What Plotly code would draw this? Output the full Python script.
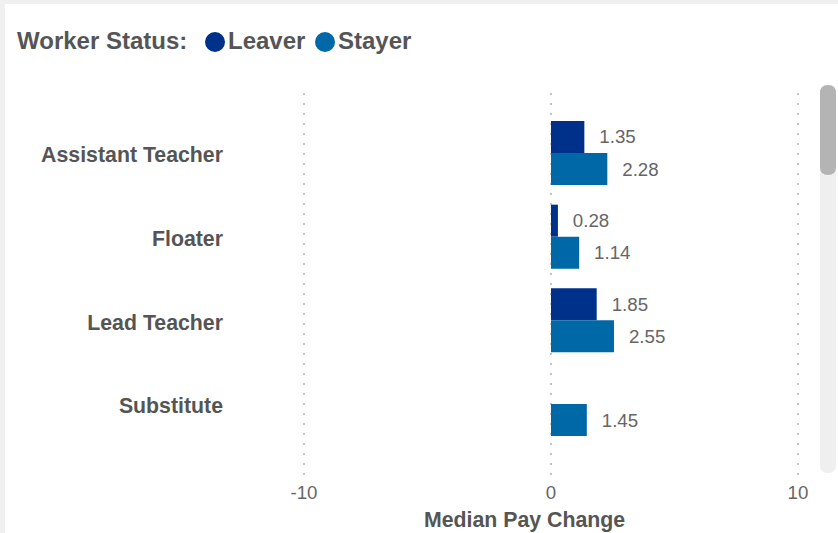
import plotly.graph_objects as go

# ---- data ----
categories = ["Assistant Teacher", "Floater", "Lead Teacher", "Substitute"]
leaver = [1.35, 0.28, 1.85, None]
stayer = [2.28, 1.14, 2.55, 1.45]
x_ticks = [-10, 0, 10]
series_names = ["Leaver", "Stayer"]
series_colors = ["#00318A", "#0068A7"]
legend_title = "Worker Status:"

# ---- layout geometry (pixels) ----
W, H = 838, 533
L, R, T, B = 238, 27, 93, 56
PW, PH = W - L - R, H - T - B
FONT = "Liberation Sans, Arial, sans-serif"
DARK = "#555555"
MID = "#666666"


def px(p):
    return (p - L) / PW


def py(p):
    return (H - B - p) / PH


def rounded_rect(x0, y0, x1, y1, r):
    """pixel coords (top-left origin) -> paper path with rounded corners"""
    rx, ry = r / PW, r / PH
    X0, X1 = px(x0), px(x1)
    Yt, Yb = py(y0), py(y1)
    return (
        f"M {X0 + rx} {Yt} L {X1 - rx} {Yt} Q {X1} {Yt} {X1} {Yt - ry} "
        f"L {X1} {Yb + ry} Q {X1} {Yb} {X1 - rx} {Yb} "
        f"L {X0 + rx} {Yb} Q {X0} {Yb} {X0} {Yb + ry} "
        f"L {X0} {Yt - ry} Q {X0} {Yt} {X0 + rx} {Yt} Z"
    )


fig = go.Figure()
label_tpl = "\u00a0\u00a0\u200a%{x:.2f}"
for name, vals, col in zip(series_names, [leaver, stayer], series_colors):
    fig.add_trace(go.Bar(
        y=categories, x=vals, name=name, orientation="h",
        marker=dict(color=col, line=dict(width=0)),
        texttemplate=label_tpl, textposition="outside",
        textfont=dict(family=FONT, size=18.7, color=MID),
        cliponaxis=False, showlegend=False, hoverinfo="x+y+name",
    ))

shapes = [
    # visual frame shading (top & left)
    dict(type="rect", xref="paper", yref="paper", x0=px(0), x1=px(W), y0=py(0), y1=py(4),
         fillcolor="#f0f0f0", line=dict(width=0), layer="below"),
    dict(type="rect", xref="paper", yref="paper", x0=px(0), x1=px(5), y0=py(0), y1=py(H),
         fillcolor="#f0f0f0", line=dict(width=0), layer="below"),
    # scrollbar track + thumb
    dict(type="path", xref="paper", yref="paper", path=rounded_rect(820, 85, 836, 473, 8),
         fillcolor="#efefef", line=dict(width=0)),
    dict(type="path", xref="paper", yref="paper", path=rounded_rect(820, 85, 836, 175, 8),
         fillcolor="#b4b4b4", line=dict(width=0)),
]

# custom legend (title + circle markers + labels)
annotations = [
    dict(text=legend_title, xref="paper", yref="paper", x=px(15), y=py(41),
         xanchor="left", yanchor="middle", showarrow=False,
         font=dict(family=FONT, size=24, color=DARK, weight="bold")),
]
legend_circle_x = [205, 315]
for name, col, cx in zip(series_names, series_colors, legend_circle_x):
    shapes.append(dict(type="circle", xref="paper", yref="paper",
                       x0=px(cx), x1=px(cx + 20), y0=py(52), y1=py(32),
                       fillcolor=col, line=dict(width=0)))
    annotations.append(dict(text=name, xref="paper", yref="paper", x=px(cx + 21), y=py(41),
                            xanchor="left", yanchor="middle", showarrow=False,
                            font=dict(family=FONT, size=24, color=DARK, weight="bold")))

fig.update_layout(
    width=W, height=H, autosize=False,
    margin=dict(l=L, r=R, t=T, b=B, pad=0, autoexpand=False),
    paper_bgcolor="white", plot_bgcolor="white",
    barmode="group", bargap=0.235, bargroupgap=0,
    font=dict(family=FONT, color=DARK),
    shapes=shapes, annotations=annotations,
    showlegend=False,
    xaxis=dict(
        automargin=False,
        range=[(L - 551) / 24.7, (W - R - 551) / 24.7],
        tickvals=x_ticks, ticktext=[str(v) for v in x_ticks],
        showgrid=True, gridcolor="#c4c4c4", griddash="2px,8px", gridwidth=1.5,
        zeroline=False, showline=False, ticks="",
        tickfont=dict(family=FONT, size=18.7, color=MID),
        ticklabelstandoff=2,
        title=dict(text="Median Pay Change", font=dict(family=FONT, size=21.3, color=DARK, weight="bold"), standoff=10),
        fixedrange=True,
    ),
    yaxis=dict(
        automargin=False,
        categoryorder="array", categoryarray=categories,
        range=[3.872, -0.717],
        showgrid=False, zeroline=False, showline=False, ticks="",
        tickfont=dict(family=FONT, size=21.3, color=DARK, weight="bold"),
        ticklabelstandoff=14, ticklabelshift=-2,
        fixedrange=True,
    ),
)

fig.write_html(
    "out.html",
    config={"responsive": False, "displayModeBar": False},
    post_script="document.body.style.margin='0px';document.body.style.padding='0px';",
)
